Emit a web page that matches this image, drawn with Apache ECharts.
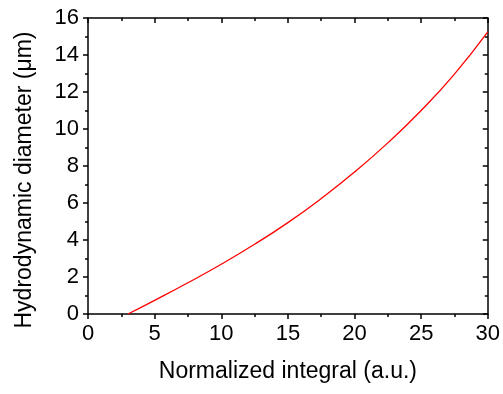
<!DOCTYPE html>
<html>
<head>
<meta charset="utf-8">
<script src="https://cdn.jsdelivr.net/npm/echarts@6/dist/echarts.min.js"></script>
<style>
  html, body { margin: 0; padding: 0; background: #fff; }
  #chart { width: 503px; height: 394px; }
</style>
</head>
<body>
<div id="chart"></div>
<script>
// values
const integralX = [3, 5, 7.5, 10, 12.5, 15, 17.5, 20, 22.5, 25, 27.5, 30];
const diameterY = [0, 0.74, 1.69, 2.69, 3.77, 4.94, 6.24, 7.67, 9.25, 11.0, 12.97, 15.25];

const xTitle = 'Normalized integral (a.u.)';
const yTitle = 'Hydrodynamic diameter (\u03bcm)';

const fontFamily = 'Liberation Sans, Arial, sans-serif';
const axisLine = { show: true, onZero: false, lineStyle: { color: '#000', width: 1.5 } };
const tickStyle = { color: '#000', width: 1.5 };

const chart = echarts.init(document.getElementById('chart'));

chart.setOption({
    animation: false,
    grid: { left: 88, right: 14.5, top: 18, bottom: 80 },
    xAxis: [
        {
            type: 'value', min: 0, max: 30, interval: 5,
            name: xTitle, nameLocation: 'middle', nameGap: 46,
            nameTextStyle: { fontSize: 23, color: '#000', fontFamily },
            axisLine,
            axisTick: { show: true, length: 5, lineStyle: tickStyle },
            minorTick: { show: true, splitNumber: 2, length: 3, lineStyle: tickStyle },
            axisLabel: { fontSize: 22, color: '#000', margin: 9, fontFamily },
            splitLine: { show: false }
        },
        {
            type: 'value', min: 0, max: 30, interval: 5, position: 'top',
            axisLine,
            axisTick: { show: true, inside: true, length: 5, lineStyle: tickStyle },
            minorTick: { show: true, splitNumber: 2, length: 3, lineStyle: tickStyle },
            axisLabel: { show: false },
            splitLine: { show: false }
        }
    ],
    yAxis: [
        {
            type: 'value', min: 0, max: 16, interval: 2,
            name: yTitle, nameLocation: 'middle', nameGap: 52,
            nameTextStyle: { fontSize: 23, color: '#000', fontFamily, padding: [0, 28, 0, 0] },
            axisLine,
            axisTick: { show: true, length: 5, lineStyle: tickStyle },
            minorTick: { show: true, splitNumber: 2, length: 3, lineStyle: tickStyle },
            axisLabel: { fontSize: 22, color: '#000', margin: 9, fontFamily },
            splitLine: { show: false }
        },
        {
            type: 'value', min: 0, max: 16, interval: 2, position: 'right',
            axisLine,
            axisTick: { show: true, inside: true, length: 5, lineStyle: tickStyle },
            minorTick: { show: true, splitNumber: 2, length: 3, lineStyle: tickStyle },
            axisLabel: { show: false },
            splitLine: { show: false }
        }
    ],
    series: [{
        type: 'line',
        data: integralX.map((x, i) => [x, diameterY[i]]),
        smooth: true,
        showSymbol: false,
        lineStyle: { color: '#ff0000', width: 1.3 }
    }]
});
</script>
</body>
</html>
